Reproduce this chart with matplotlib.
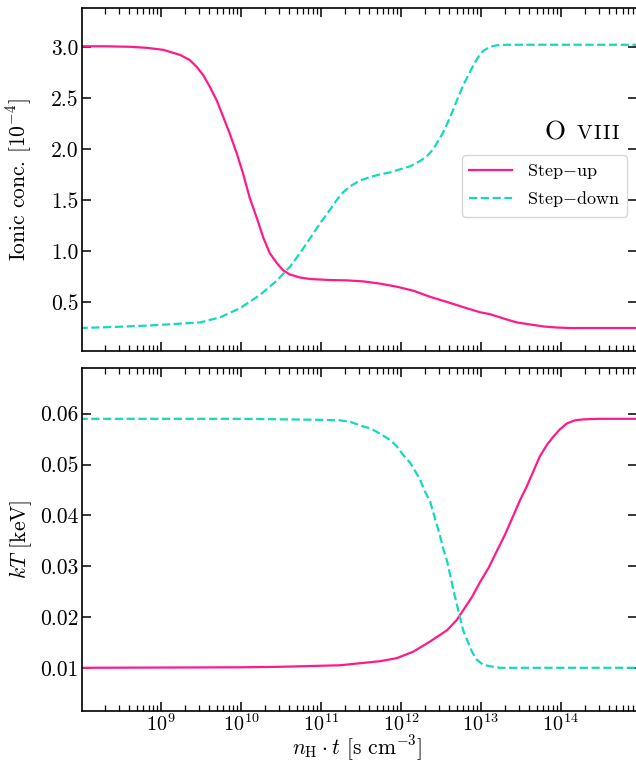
import numpy as np
import matplotlib
matplotlib.use("Agg")
import matplotlib.pyplot as plt
from matplotlib.ticker import LogLocator, NullFormatter

plt.rcParams['font.family'] = 'serif'
plt.rcParams['font.serif'] = ['cmr10']
plt.rcParams['mathtext.fontset'] = 'cm'
plt.rcParams['axes.formatter.use_mathtext'] = True

# log10(n_H t) positions and values
lg_up_ion = [7.98, 8.30, 8.61, 8.82, 9.03, 9.24, 9.36, 9.45, 9.53, 9.61, 9.70, 9.78, 9.86,
             9.95, 10.03, 10.11, 10.20, 10.28, 10.36, 10.45, 10.53, 10.61, 10.74, 10.87,
             11.12, 11.32, 11.53, 11.74, 11.95, 12.16, 12.37, 12.58, 12.78, 12.99, 13.12,
             13.28, 13.45, 13.62, 13.79, 13.95, 14.12, 14.97]
up_ion = [3.005, 3.005, 3.00, 2.99, 2.97, 2.92, 2.87, 2.80, 2.72, 2.61, 2.47, 2.31, 2.15,
          1.95, 1.75, 1.52, 1.32, 1.13, 0.98, 0.88, 0.81, 0.77, 0.74, 0.725,
          0.715, 0.712, 0.702, 0.68, 0.65, 0.61, 0.55, 0.50, 0.45, 0.40, 0.38,
          0.34, 0.30, 0.28, 0.26, 0.25, 0.245, 0.245]

lg_down_ion = [7.98, 8.40, 8.86, 9.07, 9.28, 9.49, 9.74, 9.99, 10.24, 10.45, 10.62, 10.74,
               10.87, 10.99, 11.12, 11.20, 11.28, 11.37, 11.49, 11.62, 11.74, 11.87, 11.99, 12.12,
               12.24, 12.33, 12.41, 12.47, 12.53, 12.60, 12.66, 12.72, 12.78, 12.85, 12.91,
               12.97, 13.03, 13.12, 13.20, 13.33, 14.97]
down_ion = [0.245, 0.255, 0.27, 0.28, 0.29, 0.30, 0.35, 0.44, 0.57, 0.71, 0.85, 0.98,
            1.13, 1.27, 1.41, 1.50, 1.575, 1.635, 1.69, 1.725, 1.75, 1.77, 1.80, 1.83,
            1.88, 1.93, 2.00, 2.08, 2.16, 2.28, 2.39, 2.51, 2.62, 2.73, 2.82,
            2.90, 2.96, 3.00, 3.015, 3.02, 3.02]

lg_up_kt = [7.98, 10.0, 10.5, 10.99, 11.24, 11.49, 11.74, 11.95, 12.16, 12.37, 12.58, 12.70,
            12.78, 12.89, 12.99, 13.10, 13.20, 13.31, 13.41, 13.49, 13.58, 13.66, 13.74,
            13.83, 13.91, 13.99, 14.08, 14.18, 14.29, 14.49, 14.97]
up_kt = [0.0100, 0.0101, 0.0102, 0.0104, 0.0105, 0.0109, 0.0113, 0.0119, 0.0132, 0.0152, 0.0174, 0.0194,
         0.0213, 0.0239, 0.0268, 0.0297, 0.0329, 0.0364, 0.0400, 0.0429, 0.0458, 0.0487, 0.0516,
         0.0539, 0.0555, 0.0569, 0.0581, 0.0587, 0.0589, 0.0590, 0.0590]

lg_down_kt = [7.98, 10.0, 10.5, 10.99, 11.24, 11.37, 11.49, 11.62, 11.74, 11.87, 11.95, 12.03,
              12.12, 12.18, 12.24, 12.30, 12.37, 12.43, 12.49, 12.53, 12.58, 12.62, 12.66,
              12.70, 12.74, 12.78, 12.83, 12.89, 12.95, 13.03, 13.12, 13.24, 14.97]
down_kt = [0.0590, 0.0590, 0.0589, 0.0588, 0.0587, 0.0584, 0.0577, 0.0571, 0.0561, 0.0548, 0.0536, 0.0519,
           0.0503, 0.0487, 0.0471, 0.0448, 0.0426, 0.0393, 0.0361, 0.0335, 0.0310, 0.0281, 0.0252,
           0.0226, 0.0200, 0.0174, 0.0155, 0.0132, 0.0116, 0.0106, 0.0103, 0.0100, 0.0100]

x_major = [1e9, 1e10, 1e11, 1e12, 1e13, 1e14]

pink = '#ff1a8c'
cyan = '#14d9bf'

fig = plt.figure(figsize=(6.36, 7.64), dpi=100)
ax1 = fig.add_axes([82.3/636, 1-351/764, 554.2/636, 343/764])
ax2 = fig.add_axes([82.3/636, 1-711/764, 554.2/636, 343/764])

ax1.plot(10**np.array(lg_up_ion), up_ion, color=pink, lw=1.6, label=r'Step$-$up')
ax1.plot(10**np.array(lg_down_ion), down_ion, color=cyan, lw=1.6, ls='--', label=r'Step$-$down')
ax2.plot(10**np.array(lg_up_kt), up_kt, color=pink, lw=1.6)
ax2.plot(10**np.array(lg_down_kt), down_kt, color=cyan, lw=1.6, ls='--')

for ax in (ax1, ax2):
    ax.set_xscale('log')
    ax.set_xlim(10**8.015, 10**14.95)
    ax.set_xticks(x_major)
    ax.xaxis.set_minor_locator(LogLocator(base=10, subs=np.arange(2, 10), numticks=20))
    ax.xaxis.set_minor_formatter(NullFormatter())
    ax.tick_params(which='both', direction='in', top=True, right=True, labelsize=15.5)
    ax.tick_params(which='major', length=6.5, width=1.1)
    ax.tick_params(which='minor', length=4, width=0.9)
    ax.tick_params(axis='y', pad=2.5)
    ax.tick_params(axis='x', pad=1.5, labelsize=14.5)
    for s in ax.spines.values():
        s.set_linewidth(1.2)

ax1.set_ylim(0.02, 3.38)
ax1.set_yticks([0.5, 1.0, 1.5, 2.0, 2.5, 3.0])
ax1.set_yticklabels(['0.5', '1.0', '1.5', '2.0', '2.5', '3.0'])
ax1.tick_params(labelbottom=False)
ax1.set_ylabel(r'Ionic conc. [$10^{-4}$]', fontsize=15.5)
ax1.yaxis.set_label_coords(-0.087, 0.5)

ax2.set_ylim(0.0015, 0.069)
ax2.set_yticks([0.01, 0.02, 0.03, 0.04, 0.05, 0.06])
ax2.set_yticklabels(['0.01', '0.02', '0.03', '0.04', '0.05', '0.06'])
ax2.set_ylabel(r'$kT$ [keV]', fontsize=15.5)
ax2.yaxis.set_label_coords(-0.087, 0.5)
ax2.set_xlabel(r'$n_{\rm H} \cdot t$ [s cm$^{-3}$]', fontsize=15.5)
ax2.xaxis.set_label_coords(0.496, -0.066)

# ion label, small caps imitated with a smaller size
ax1.text(0.871, 0.617, 'O', transform=ax1.transAxes, fontsize=19.5, ha='right', va='baseline')
ax1.text(0.970, 0.617, r'$\mathrm{V\hspace{0.08}I\hspace{0.08}I\hspace{0.08}I}$',
         transform=ax1.transAxes, fontsize=15, ha='right', va='baseline')

ax1.legend(loc='upper right', bbox_to_anchor=(0.983, 0.571), borderaxespad=0, fontsize=13,
           handlelength=2.4, handletextpad=0.8, labelspacing=0.45, frameon=True,
           fancybox=True, edgecolor='#cccccc')

plt.savefig('out.png', dpi=100)
